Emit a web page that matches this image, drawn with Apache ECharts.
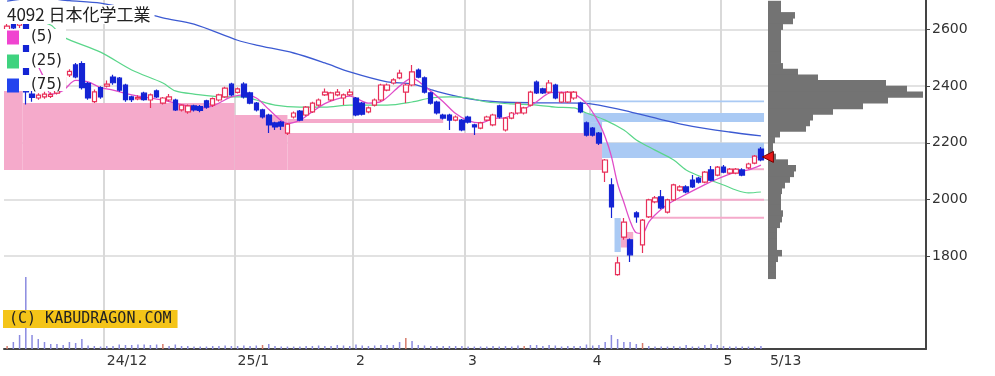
<!DOCTYPE html>
<html>
<head>
<meta charset="utf-8">
<script src="https://cdn.jsdelivr.net/npm/echarts@6/dist/echarts.min.js"></script>
<style>
html, body { margin: 0; padding: 0; background: #fff; }
#chart { width: 995px; height: 376px; }
</style>
</head>
<body>
<div id="chart"></div>
<script>
// trading days shown on the chart, per month
const tradingDays = [
    ['2024-11', [8, 11, 12, 13, 14, 15, 18, 19, 20, 21, 22, 25, 26, 27, 28, 29]],
    ['2024-12', [2, 3, 4, 5, 6, 9, 10, 11, 12, 13, 16, 17, 18, 19, 20, 23, 24, 25, 26, 27, 30]],
    ['2025-01', [6, 7, 8, 9, 10, 14, 15, 16, 17, 20, 21, 22, 23, 24, 27, 28, 29, 30, 31]],
    ['2025-02', [3, 4, 5, 6, 7, 10, 12, 13, 14, 17, 18, 19, 20, 21, 25, 26, 27, 28]],
    ['2025-03', [3, 4, 5, 6, 7, 10, 11, 12, 13, 14, 17, 18, 19, 21, 24, 25, 26, 27, 28, 31]],
    ['2025-04', [1, 2, 3, 4, 7, 8, 9, 10, 11, 14, 15, 16, 17, 18, 21, 22, 23, 24, 25, 28, 30]],
    ['2025-05', [1, 2, 7, 8, 9, 12, 13]]
];

const monthTicks = {
    '2024-12-02': '24/12', '2025-01-06': '25/1', '2025-02-03': '2',
    '2025-03-03': '3', '2025-04-01': '4', '2025-05-01': '5'
};
const lastTick = '5/13';
const priceTicks = [1800, 2000, 2200, 2400, 2600];

// [open, close, low, high]
const ohlc = [
    [2590, 2612, 2585, 2620], [2618, 2606, 2598, 2628], [2615, 2622, 2605, 2632], [2620, 2380, 2335, 2625],
    [2372, 2360, 2345, 2385], [2358, 2368, 2352, 2375], [2362, 2372, 2355, 2380], [2364, 2371, 2358, 2378],
    [2375, 2402, 2370, 2410], [2400, 2430, 2395, 2438], [2440, 2452, 2432, 2460], [2475, 2433, 2428, 2482],
    [2480, 2395, 2388, 2488], [2410, 2358, 2352, 2415], [2345, 2380, 2340, 2388], [2395, 2362, 2355, 2400],
    [2400, 2407, 2395, 2420], [2432, 2412, 2405, 2440], [2428, 2386, 2380, 2432], [2404, 2352, 2345, 2408],
    [2362, 2352, 2344, 2366], [2355, 2360, 2350, 2368], [2375, 2352, 2348, 2380], [2351, 2369, 2323, 2374],
    [2383, 2362, 2358, 2388], [2340, 2358, 2335, 2362], [2351, 2362, 2346, 2372], [2351, 2316, 2312, 2355],
    [2316, 2333, 2310, 2336], [2309, 2330, 2302, 2335], [2330, 2316, 2310, 2334], [2328, 2314, 2308, 2333],
    [2348, 2326, 2320, 2352], [2333, 2356, 2326, 2360], [2351, 2369, 2346, 2373], [2362, 2393, 2358, 2398],
    [2407, 2369, 2364, 2412], [2378, 2390, 2374, 2395], [2407, 2362, 2356, 2414], [2376, 2340, 2336, 2380],
    [2340, 2316, 2310, 2344], [2316, 2291, 2286, 2320], [2298, 2263, 2234, 2302], [2270, 2256, 2245, 2274],
    [2273, 2259, 2245, 2277], [2234, 2266, 2227, 2270], [2291, 2305, 2286, 2310], [2312, 2280, 2276, 2316],
    [2298, 2326, 2294, 2330], [2309, 2340, 2305, 2345], [2333, 2351, 2328, 2356], [2369, 2379, 2365, 2392],
    [2351, 2376, 2347, 2380], [2369, 2379, 2364, 2390], [2358, 2369, 2333, 2374], [2369, 2379, 2365, 2390],
    [2358, 2298, 2294, 2362], [2340, 2301, 2296, 2344], [2309, 2323, 2304, 2328], [2333, 2351, 2328, 2356],
    [2351, 2404, 2346, 2408], [2386, 2404, 2382, 2409], [2411, 2422, 2406, 2428], [2429, 2446, 2424, 2458],
    [2379, 2404, 2340, 2409], [2404, 2450, 2400, 2475], [2457, 2432, 2428, 2462], [2429, 2379, 2374, 2434],
    [2376, 2340, 2335, 2380], [2344, 2305, 2300, 2348], [2298, 2287, 2282, 2302], [2298, 2280, 2245, 2302],
    [2280, 2291, 2276, 2296], [2280, 2245, 2241, 2284], [2291, 2273, 2268, 2295], [2263, 2256, 2227, 2267],
    [2252, 2270, 2248, 2274], [2280, 2291, 2276, 2295], [2263, 2298, 2258, 2302], [2330, 2291, 2286, 2334],
    [2245, 2287, 2240, 2291], [2287, 2305, 2283, 2309], [2305, 2340, 2300, 2344], [2305, 2323, 2300, 2327],
    [2333, 2379, 2328, 2384], [2414, 2376, 2372, 2420], [2390, 2376, 2372, 2394], [2379, 2411, 2374, 2422],
    [2404, 2358, 2354, 2408], [2344, 2376, 2340, 2380], [2344, 2379, 2340, 2383], [2358, 2379, 2352, 2383],
    [2340, 2309, 2304, 2345], [2270, 2227, 2222, 2275], [2252, 2227, 2222, 2256], [2234, 2199, 2192, 2238],
    [2096, 2139, 2061, 2143], [2051, 1973, 1934, 2075], [1734, 1776, 1730, 1797], [1867, 1920, 1857, 1934],
    [1857, 1804, 1779, 1862], [1952, 1938, 1917, 1958], [1839, 1927, 1811, 1931], [1938, 1998, 1934, 2002],
    [1991, 2005, 1986, 2012], [2009, 1970, 1965, 2033], [1955, 1998, 1950, 2002], [1998, 2051, 1994, 2055],
    [2033, 2044, 2028, 2050], [2044, 2026, 2022, 2050], [2068, 2044, 2040, 2086], [2075, 2061, 2056, 2080],
    [2061, 2096, 2057, 2100], [2104, 2068, 2064, 2118], [2086, 2114, 2082, 2118], [2114, 2096, 2092, 2121],
    [2093, 2107, 2089, 2111], [2093, 2107, 2089, 2111], [2104, 2086, 2082, 2110], [2111, 2125, 2107, 2129],
    [2128, 2153, 2124, 2157], [2178, 2139, 2135, 2185]
];

// volume, thousand shares
const volumes = [
    30, 70, 140, 720, 140, 100, 70, 50, 50, 40, 70, 60, 100, 35, 30, 25, 30, 30, 45, 40,
    40, 45, 45, 40, 45, 50, 30, 45, 30, 30, 25, 25, 25, 30, 30, 35, 30, 30, 35, 30,
    35, 40, 50, 30, 25, 25, 25, 25, 30, 30, 35, 30, 30, 40, 35, 30, 45, 35, 30, 35,
    40, 40, 40, 70, 110, 80, 40, 35, 30, 30, 30, 30, 30, 30, 25, 25, 25, 25, 30, 25,
    30, 25, 35, 30, 40, 40, 30, 40, 35, 25, 30, 30, 30, 45, 35, 40, 70, 140, 100, 70,
    70, 50, 60, 30, 25, 25, 25, 30, 25, 40, 25, 25, 40, 50, 40, 30, 25, 25, 25, 25,
    25, 30
];
const markedVolumeDays = [0, 25, 41, 64, 83, 102];

// moving averages read at sample days: [day index, price]
const ma5 = [
    [4, 2520], [5, 2470], [6, 2425], [7, 2372], [9, 2385], [11, 2420], [13, 2415], [15, 2395],
    [17, 2386], [20, 2369], [25, 2351], [28, 2335], [31, 2322], [33, 2330], [35, 2352], [36, 2362],
    [38, 2369], [40, 2358], [42, 2318], [44, 2278], [45, 2268], [47, 2280], [49, 2310], [51, 2338],
    [53, 2355], [55, 2365], [58, 2340], [60, 2345], [63, 2400], [65, 2428], [67, 2400], [70, 2345],
    [72, 2303], [74, 2278], [76, 2270], [78, 2285], [80, 2289], [82, 2307], [85, 2345], [87, 2375],
    [89, 2379], [91, 2372], [93, 2338], [95, 2270], [96, 2220], [97, 2152], [98, 2055], [99, 1990],
    [100, 1924], [101, 1882], [102, 1880], [103, 1920], [104, 1945], [106, 1982], [109, 2018],
    [112, 2052], [114, 2072], [117, 2096], [119, 2104], [121, 2121]
];
const ma25 = [
    [2, 2650], [7, 2616], [9, 2574], [15, 2520], [20, 2457], [25, 2411], [27, 2383], [30, 2372],
    [35, 2362], [38, 2362], [40, 2351], [43, 2333], [47, 2326], [51, 2326], [55, 2333], [61, 2333],
    [65, 2344], [68, 2358], [71, 2362], [74, 2358], [77, 2344], [81, 2337], [85, 2333], [88, 2326],
    [91, 2323], [93, 2305], [96, 2280], [99, 2245], [101, 2210], [104, 2174], [107, 2139], [109, 2104],
    [112, 2075], [115, 2051], [117, 2033], [119, 2023], [121, 2026]
];
const ma75 = [
    [0, 2700], [5, 2712], [10, 2702], [15, 2693], [20, 2670], [25, 2641], [30, 2619], [37, 2562],
    [40, 2545], [46, 2517], [51, 2482], [55, 2450], [61, 2415], [65, 2408], [68, 2388], [71, 2370],
    [75, 2352], [79, 2344], [85, 2341], [92, 2340], [95, 2333], [100, 2309], [105, 2282], [110, 2258],
    [116, 2238], [121, 2224]
];

// price zones: [from day, to day, low, high]
const pinkZones = [
    [-0.5, 2.5, 2104, 2432], [2.5, 36.5, 2104, 2340], [36.5, 45, 2104, 2298],
    [45, 70, 2270, 2284], [45, 95.5, 2104, 2234], [98.5, 100.5, 1830, 1885],
    [103.5, 121.5, 1932, 1939], [107.5, 121.5, 1995, 2002], [119, 121.5, 2103, 2110]
];
const blueZones = [
    [92.5, 121.5, 2343, 2349], [92.5, 121.5, 2273, 2305], [92.5, 95.5, 2234, 2273],
    [95.5, 121.5, 2146, 2200], [97.5, 98.5, 1814, 1934]
];

// volume by price, 20 yen bins (bin centre, volume)
const profilePrices = [
    2690, 2670, 2650, 2630, 2610, 2590, 2570, 2550, 2530, 2510, 2490, 2470, 2450, 2430, 2410, 2390, 2370,
    2350, 2330, 2310, 2290, 2270, 2250, 2230, 2210, 2190, 2170, 2150, 2130, 2110, 2090, 2070, 2050,
    2030, 2010, 1990, 1970, 1950, 1930, 1910, 1890, 1870, 1850, 1830, 1810, 1790, 1770, 1750, 1730
];
const profileVolume = [
    13, 13, 27, 25, 15, 13, 13, 13, 13, 13, 13, 15, 30, 50, 118, 139, 155,
    120, 95, 65, 45, 42, 38, 12, 7, 5, 5, 8, 20, 28, 26, 22, 17,
    14, 13, 13, 13, 15, 14, 12, 9, 9, 9, 9, 14, 10, 8, 8, 8
];
const lastPrice = 2150;

const dates = [];
tradingDays.forEach(([ym, days]) => days.forEach(d => dates.push(ym + '-' + String(d).padStart(2, '0'))));
const slotCount = 148;
const categories = dates.slice();
while (categories.length < slotCount) categories.push('pad' + categories.length);
const lastDate = dates[dates.length - 1];

const chart = echarts.init(document.getElementById('chart'));

function zoneData(zones, color) {
    return zones.map(z => [
        { xAxis: z[0], yAxis: z[2], itemStyle: { color } },
        { xAxis: z[1], yAxis: z[3] }
    ]);
}

function renderProfile(params, api) {
    const top = api.coord([api.value(0), api.value(1) + 10]);
    const bottom = api.coord([0, api.value(1) - 10]);
    return {
        type: 'rect',
        shape: { x: bottom[0], y: top[1] - 0.4, width: top[0] - bottom[0], height: bottom[1] - top[1] + 0.8 },
        style: { fill: '#737373' }
    };
}

// white boxes behind the legend rows, as in the original
const legendRows = [29, 52, 75].map(top => ({
    type: 'rect', left: 0, top, z: 5, silent: true,
    shape: { width: 66, height: 16 }, style: { fill: '#fff' }
}));

const hiddenAxis = { show: false, axisLine: { show: false, onZero: false }, axisTick: { show: false }, axisLabel: { show: false }, splitLine: { show: false } };

const option = {
    animation: false,
    textStyle: { fontFamily: 'DejaVu Sans' },
    title: {
        text: '4092 日本化学工業',
        left: 3, top: 5, padding: [1, 4, 1, 4],
        backgroundColor: '#fff',
        textStyle: { fontSize: 17, fontWeight: 'normal', color: '#222', fontFamily: 'Noto Sans CJK JP' }
    },
    legend: {
        orient: 'vertical', left: 7, top: 30, padding: 0, z: 8,
        itemWidth: 12, itemHeight: 14, itemGap: 9, icon: 'rect',
        selectedMode: false,
        textStyle: { fontSize: 15, color: '#222', padding: [0, 0, 0, 7] },
        data: [
            { name: '(5)', itemStyle: { color: '#f044d0' } },
            { name: '(25)', itemStyle: { color: '#3fd37f' } },
            { name: '(75)', itemStyle: { color: '#2244ee' } }
        ]
    },
    grid: [
        { left: 4, right: 69, top: 0, height: 349 },
        { left: 4, right: 69, top: 29.5, height: 226.5 },
        { left: 768, right: 69, top: 29.5, height: 226.5 }
    ],
    xAxis: [
        {
            gridIndex: 0, type: 'category', data: categories, boundaryGap: true,
            axisLine: { onZero: false, lineStyle: { color: '#444', width: 2 } },
            axisTick: { show: false },
            axisLabel: {
                interval: (i, v) => v in monthTicks || v === lastDate,
                formatter: v => v === lastDate ? '{last|' + lastTick + '}' : monthTicks[v],
                align: 'left', color: '#333', fontSize: 14, margin: 5,
                rich: { last: { fontSize: 14, color: '#333', padding: [0, 0, 0, 9] } }
            },
            splitLine: {
                show: true,
                interval: (i, v) => v in monthTicks,
                lineStyle: { color: '#d9d9d9', width: 2 }
            }
        },
        Object.assign({ gridIndex: 1, type: 'category', data: categories, boundaryGap: true }, hiddenAxis),
        Object.assign({ gridIndex: 1, type: 'value', min: -0.5, max: slotCount - 0.5 }, hiddenAxis),
        Object.assign({ gridIndex: 2, type: 'value', min: 0, max: 158 }, hiddenAxis)
    ],
    yAxis: [
        {
            gridIndex: 0, type: 'value', min: 0, max: 3490, position: 'right',
            axisLine: { show: true, onZero: false, lineStyle: { color: '#444', width: 2 } },
            axisTick: { show: false }, axisLabel: { show: false }, splitLine: { show: false }
        },
        {
            gridIndex: 1, type: 'value', min: priceTicks[0], max: priceTicks[priceTicks.length - 1],
            interval: 200, position: 'right',
            axisLine: { show: false, onZero: false },
            axisTick: { show: true, length: 4, lineStyle: { color: '#444' } },
            axisLabel: { color: '#333', fontSize: 14, margin: 6, formatter: v => String(v) },
            splitLine: { lineStyle: { color: '#d9d9d9', width: 1.5 } }
        },
        Object.assign({ gridIndex: 2, type: 'value', min: priceTicks[0], max: priceTicks[priceTicks.length - 1] }, hiddenAxis)
    ],
    graphic: legendRows.concat([{
        type: 'text', left: 3, top: 310, z: 100,
        style: {
            text: '(C) KABUDRAGON.COM',
            font: '15px "DejaVu Sans Mono"',
            fill: '#222',
            backgroundColor: '#f4c418',
            padding: [2, 6, 1, 6]
        }
    }]),
    series: [
        {
            name: 'zones', type: 'line', xAxisIndex: 2, yAxisIndex: 1, data: [], z: -1, silent: true,
            markArea: {
                silent: true,
                label: { show: false },
                data: zoneData(pinkZones, '#f5aacb').concat(zoneData(blueZones, '#aacaf4'))
            }
        },
        {
            name: 'volume', type: 'bar', xAxisIndex: 0, yAxisIndex: 0, barWidth: 1.5, silent: true,
            data: volumes.map((v, i) => ({
                value: v,
                itemStyle: { color: markedVolumeDays.includes(i) ? '#d77c6c' : '#8b8be0' }
            }))
        },
        {
            name: '(75)', type: 'line', xAxisIndex: 1, yAxisIndex: 1, data: ma75, smooth: 0.3,
            showSymbol: false, clip: false, z: 3, lineStyle: { color: '#3c5ad2', width: 1.3 },
            itemStyle: { color: '#2244ee' }
        },
        {
            name: '(25)', type: 'line', xAxisIndex: 1, yAxisIndex: 1, data: ma25, smooth: 0.3,
            showSymbol: false, clip: false, z: 3, lineStyle: { color: '#5ad68a', width: 1.2 },
            itemStyle: { color: '#3fd37f' }
        },
        {
            name: '(5)', type: 'line', xAxisIndex: 1, yAxisIndex: 1, data: ma5, smooth: 0.3,
            showSymbol: false, clip: false, z: 3, lineStyle: { color: '#e04cc8', width: 1.3 },
            itemStyle: { color: '#f044d0' }
        },
        {
            name: 'price', type: 'candlestick', xAxisIndex: 1, yAxisIndex: 1, data: ohlc,
            barWidth: 5, clip: false, z: 4,
            itemStyle: {
                color: '#fff', borderColor: '#e8305a',
                color0: '#1424d4', borderColor0: '#1424d4', borderWidth: 1.2
            },
            markPoint: {
                silent: true,
                data: [{
                    coord: [dates.length - 1, lastPrice],
                    symbol: 'triangle', symbolSize: [11, 11], symbolRotate: 90, symbolOffset: [7, 0],
                    itemStyle: { color: '#e81818', borderColor: '#700', borderWidth: 1 },
                    label: { show: false }
                }]
            }
        },
        {
            name: 'profile', type: 'custom', xAxisIndex: 3, yAxisIndex: 2, clip: false, silent: true,
            renderItem: renderProfile,
            data: profilePrices.map((p, i) => [profileVolume[i], p])
        }
    ]
};

chart.setOption(option);
window.addEventListener('resize', () => chart.resize());
</script>
</body>
</html>
